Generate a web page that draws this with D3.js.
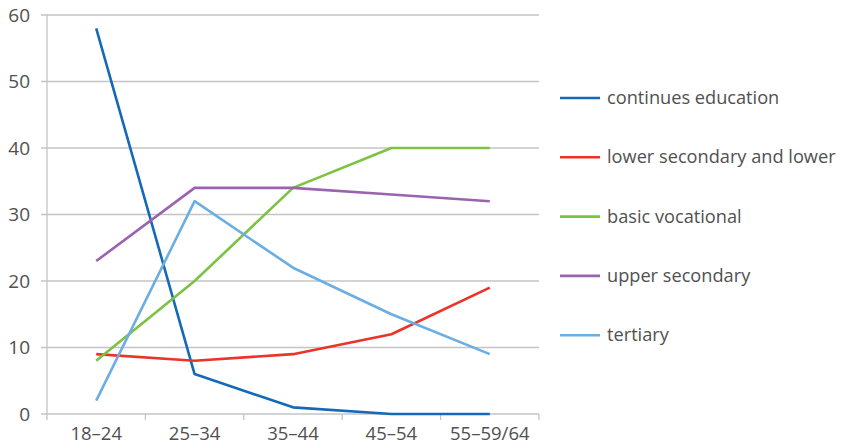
<!DOCTYPE html>
<html>
<head>
<meta charset="utf-8">
<script src="https://cdn.jsdelivr.net/npm/d3@7"></script>
<style>
  html, body { margin: 0; padding: 0; background: #fff; }
  svg text { font-family: "Open Sans", "Noto Sans", sans-serif; fill: #505050; }
</style>
</head>
<body>
<svg id="chart" width="844" height="445"></svg>
<script>
const categories = ["18–24", "25–34", "35–44", "45–54", "55–59/64"];
const yTicks = [0, 10, 20, 30, 40, 50, 60];

const continuesEducation = [58, 6, 1, 0, 0];
const lowerSecondary = [9, 8, 9, 12, 19];
const basicVocational = [8, 20, 34, 40, 40];
const upperSecondary = [23, 34, 34, 33, 32];
const tertiary = [2, 32, 22, 15, 9];

const seriesNames = ["continues education", "lower secondary and lower", "basic vocational", "upper secondary", "tertiary"];
const seriesColors = ["#1469b8", "#ea3428", "#7cc243", "#9b62b0", "#6baee3"];
const seriesValues = [continuesEducation, lowerSecondary, basicVocational, upperSecondary, tertiary];

(function draw() {
  const svg = d3.select("#chart");
  const plotLeft = 47, plotRight = 539, plotTop = 15, plotBottom = 414;

  const x = d3.scaleBand().domain(categories).range([plotLeft, plotRight]).padding(0);
  const y = d3.scaleLinear().domain([0, 60]).range([plotBottom, plotTop]);

  // horizontal gridlines with short outer ticks
  svg.append("g")
    .selectAll("line")
    .data(yTicks)
    .join("line")
    .attr("x1", plotLeft - 6).attr("x2", plotRight)
    .attr("y1", d => y(d)).attr("y2", d => y(d))
    .attr("stroke", "#c4c4c4").attr("stroke-width", 1.3);

  // y axis line
  svg.append("line")
    .attr("x1", plotLeft).attr("x2", plotLeft)
    .attr("y1", plotTop).attr("y2", plotBottom + 6)
    .attr("stroke", "#c4c4c4").attr("stroke-width", 1.3);

  // category boundary ticks
  const bounds = categories.slice(1).map(c => x(c)).concat([plotRight]);
  svg.append("g")
    .selectAll("line")
    .data(bounds)
    .join("line")
    .attr("x1", d => d).attr("x2", d => d)
    .attr("y1", plotBottom).attr("y2", plotBottom + 6)
    .attr("stroke", "#c4c4c4").attr("stroke-width", 1.3);

  // y tick labels
  svg.append("g")
    .selectAll("text")
    .data(yTicks)
    .join("text")
    .attr("x", 30).attr("y", d => y(d))
    .attr("dy", "0.36em")
    .attr("text-anchor", "end")
    .attr("font-size", 19)
    .text(d => d);

  // x tick labels
  svg.append("g")
    .selectAll("text")
    .data(categories)
    .join("text")
    .attr("x", d => x(d) + x.bandwidth() / 2)
    .attr("y", 439.5)
    .attr("text-anchor", "middle")
    .attr("font-size", 18.5)
    .text(d => d);

  // series lines
  const line = d3.line()
    .x((d, i) => x(categories[i]) + x.bandwidth() / 2)
    .y(d => y(d));

  svg.append("g")
    .selectAll("path")
    .data(seriesValues)
    .join("path")
    .attr("d", d => line(d))
    .attr("fill", "none")
    .attr("stroke", (d, i) => seriesColors[i])
    .attr("stroke-width", 2.6)
    .attr("stroke-linejoin", "round");

  // legend
  const legend = svg.append("g")
    .selectAll("g")
    .data(seriesNames)
    .join("g")
    .attr("transform", (d, i) => `translate(560, ${98 + i * 59.3})`);

  legend.append("line")
    .attr("x1", 0).attr("x2", 40)
    .attr("y1", 0).attr("y2", 0)
    .attr("stroke", (d, i) => seriesColors[i])
    .attr("stroke-width", 2.6);

  legend.append("text")
    .attr("x", 47).attr("y", 0)
    .attr("dy", "0.33em")
    .attr("font-size", 18.2)
    .text(d => d);
})();
</script>
</body>
</html>
